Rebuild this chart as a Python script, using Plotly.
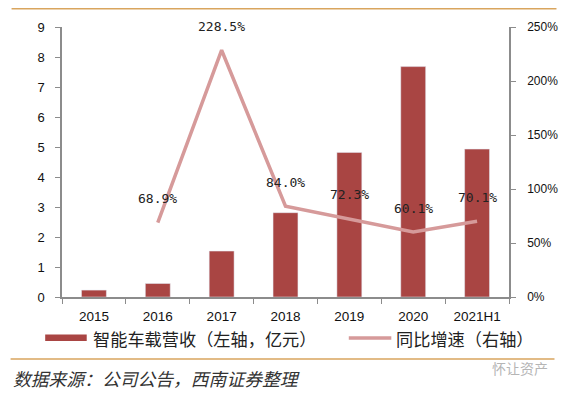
import plotly.graph_objects as go

categories = ["2015", "2016", "2017", "2018", "2019", "2020", "2021H1"]
revenue = [0.23, 0.45, 1.53, 2.81, 4.82, 7.68, 4.93]
growth_years = ["2016", "2017", "2018", "2019", "2020", "2021H1"]
growth = [68.9, 228.5, 84.0, 72.3, 60.1, 70.1]
growth_labels = ["68.9%", "228.5%", "84.0%", "72.3%", "60.1%", "70.1%"]
left_ticks = [0, 1, 2, 3, 4, 5, 6, 7, 8, 9]
right_ticks = [0, 50, 100, 150, 200, 250]
right_tick_text = ["0%", "50%", "100%", "150%", "200%", "250%"]

BAR = "#A94543"
LINE = "#D69A9A"
GOLD = "#D9A55E"
AXIS = "#8C8C8C"

fig = go.Figure()
fig.add_trace(go.Bar(x=categories, y=revenue, marker_color=BAR, width=0.39,
                     name="智能车载营收（左轴，亿元）", showlegend=False))
fig.add_trace(go.Scatter(x=growth_years, y=growth, yaxis="y2", mode="lines",
                         line=dict(color=LINE, width=3.5),
                         name="同比增速（右轴）", showlegend=False))

for xv, yv, t in zip(growth_years, growth, growth_labels):
    fig.add_annotation(x=categories.index(xv), y=yv, yref="y2", text=t, showarrow=False,
                       yshift=24, font=dict(family="DejaVu Sans Mono", size=13, color="#222"))

# page body adds an 8px offset, so the figure is 8px smaller than the window
fig.update_layout(
    width=562, height=386,
    margin=dict(l=54, r=56, t=19, b=97),
    paper_bgcolor="white", plot_bgcolor="white",
    xaxis=dict(type="category", categoryorder="array", categoryarray=categories,
               range=[-0.5, len(categories) - 0.5],
               showline=True, linecolor=AXIS, linewidth=1.5,
               ticks="outside", tickson="boundaries", ticklen=5, tickcolor=AXIS,
               ticklabelstandoff=6,
               tickfont=dict(family="Liberation Sans", size=13.5, color="#111"),
               showgrid=False, zeroline=False),
    yaxis=dict(range=[0, 9], tickvals=left_ticks, showline=True, linecolor=AXIS,
               linewidth=1.5, ticks="outside", ticklen=5, tickcolor=AXIS,
               ticklabelstandoff=8,
               tickfont=dict(family="Liberation Sans", size=13, color="#111"),
               showgrid=False, zeroline=False),
    yaxis2=dict(range=[0, 250], tickvals=right_ticks, ticktext=right_tick_text,
                overlaying="y", side="right", showline=True, linecolor=AXIS,
                linewidth=1.5, ticks="outside", ticklen=5, tickcolor=AXIS,
                ticklabelstandoff=9,
                tickfont=dict(family="Liberation Sans", size=12, color="#111"),
                showgrid=False, zeroline=False),
    font=dict(family="Noto Sans CJK SC"),
)

# decorative rules
fig.add_shape(type="line", xref="paper", yref="paper", x0=-51/452, x1=500/452,
              y0=288.3/270, y1=288.3/270, line=dict(color=GOLD, width=1.5))
fig.add_shape(type="line", xref="paper", yref="paper", x0=-52/452, x1=498/452,
              y0=-(359-297)/270, y1=-(359-297)/270, line=dict(color=GOLD, width=1.5))

# custom legend
ly = -(338-297)/270
fig.add_shape(type="rect", xref="paper", yref="paper", x0=(45-62)/452, x1=(87-62)/452,
              y0=ly-3/270, y1=ly+3.5/270, fillcolor=BAR, line=dict(width=0))
fig.add_annotation(xref="paper", yref="paper", x=(91-62)/452, y=ly, xanchor="left",
                   yanchor="middle", showarrow=False, text="智能车载营收（左轴，亿元）",
                   font=dict(family="Noto Sans CJK SC", size=17.2, color="#222"))
fig.add_shape(type="line", xref="paper", yref="paper", x0=(352-62)/452, x1=(395-62)/452,
              y0=ly, y1=ly, line=dict(color=LINE, width=3.5))
fig.add_annotation(xref="paper", yref="paper", x=(398-62)/452, y=ly, xanchor="left",
                   yanchor="middle", showarrow=False, text="同比增速（右轴）",
                   font=dict(family="Noto Sans CJK SC", size=17.2, color="#222"))

# source note
fig.add_annotation(xref="paper", yref="paper", x=(10-62)/452, y=-(378-297)/270,
                   xanchor="left", yanchor="middle", showarrow=False,
                   text="<i>数据来源：公司公告，西南证券整理 </i>",
                   font=dict(family="Noto Sans CJK SC", size=17.8, color="#333"))
fig.add_annotation(xref="paper", yref="paper", x=(495-62)/452, y=-(368-297)/270,
                   xanchor="left", yanchor="middle", showarrow=False,
                   text="怀让资产",
                   font=dict(family="Noto Sans CJK SC", size=14, color="#B5B5B5"))

fig.write_html("out.html")
